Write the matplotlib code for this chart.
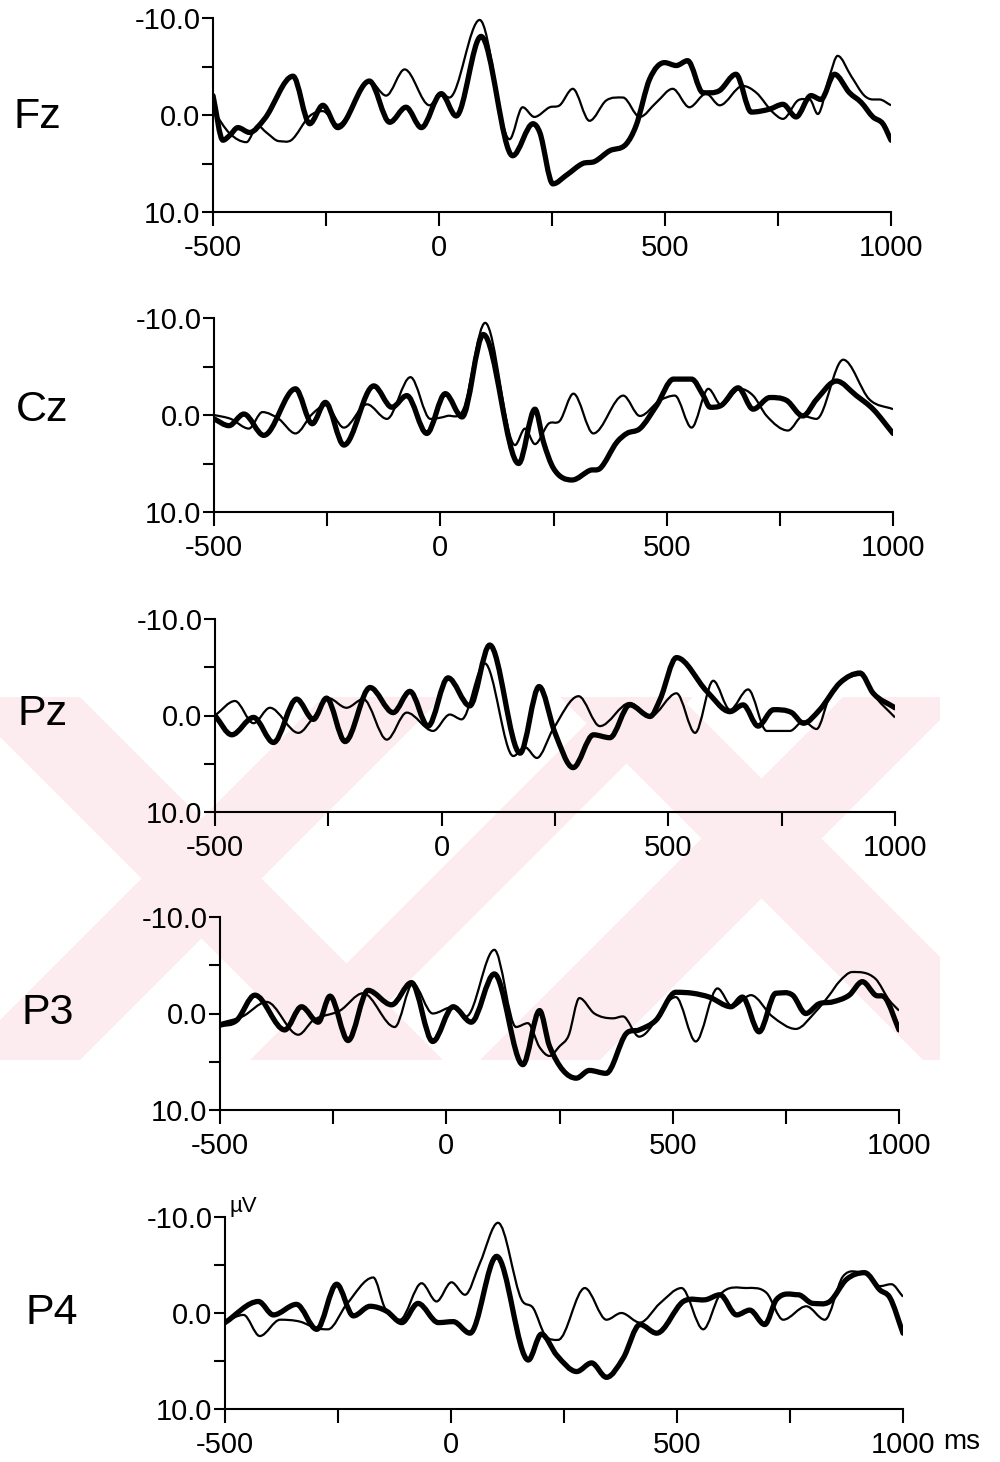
import matplotlib
matplotlib.use("Agg")
import matplotlib.pyplot as plt
from matplotlib.path import Path
from matplotlib.patches import PathPatch, Polygon, Rectangle

plt.rcParams['font.family'] = ['Liberation Sans', 'DejaVu Sans']

# electrode names, top to bottom
electrodes = ['Fz', 'Cz', 'Pz', 'P3', 'P4']

# (ms, uV), negative is drawn up
fz_thin_t = [-500, -463, -426, -401, -382, -353, -327, -286, -257, -224, -154, -117, -76, -21, 5, 23, 90, 156, 185, 211,
             245, 267, 296, 333, 370, 407, 444, 481, 517, 554, 591, 621, 672, 702, 738, 761, 794, 820, 838, 864, 882,
             912, 941, 960, 974, 1000]
fz_thin_v = [-0.5, 1.9, 2.8, 1.1, 1.8, 2.7, 2.6, 0.1, -0.4, 1.0, -3.5, -2.0, -4.7, -1.0, -2.2, -1.8, -9.8, 2.5, -0.8, 0.2,
             -0.8, -1.0, -2.7, 0.6, -1.5, -1.8, 0.2, -1.3, -2.7, -0.8, -2.2, -1.0, -3.0, -2.3, -0.3, 0.4, -1.5, -1.6, -0.1,
             -4.0, -6.1, -4.0, -2.0, -1.6, -1.6, -1.0]
fz_thick_t = [-500, -478, -463, -445, -419, -386, -323, -286, -257, -224, -154, -109, -73, -39, 5, 38, 93, 163, 208, 223,
              252, 282, 318, 344, 377, 414, 436, 466, 499, 525, 550, 584, 620, 657, 691, 731, 761, 790, 823, 845, 875,
              908, 934, 960, 982, 1000]
fz_thick_v = [-2.0, 2.6, 2.1, 1.3, 1.8, 0.4, -4.0, 0.9, -1.0, 1.3, -3.5, 0.75, -0.8, 1.3, -2.2, 0.1, -8.1, 4.2, 0.9, 1.8,
              7.1, 6.2, 5.0, 4.8, 3.7, 3.0, 1.1, -3.7, -5.4, -5.1, -5.6, -2.3, -2.5, -4.2, -0.3, -0.6, -1.1, 0.2, -2.0,
              -1.6, -4.2, -2.3, -1.3, 0.2, 0.9, 2.6]

cz_thin_t = [-500, -463, -423, -393, -357, -320, -283, -254, -213, -162, -118, -66, -22, 15, 51, 99, 165, 187, 209, 239,
             264, 294, 338, 404, 441, 485, 518, 555, 592, 621, 662, 691, 721, 768, 801, 831, 890, 948, 1000]
cz_thin_v = [0.0, 0.4, 1.4, -0.3, 0.4, 1.9, -0.1, -1.0, 1.3, -1.1, 0.4, -3.9, 0.4, 0.1, -0.6, -9.5, 3.1, 1.4, 3.0, 0.9,
             0.6, -2.2, 1.9, -2.0, 0.1, -1.5, -2.0, 1.3, -2.7, -1.0, -2.7, -2.0, 0.1, 1.6, 0.1, 0.4, -5.7, -1.6, -0.6]
cz_thick_t = [-500, -467, -434, -390, -320, -283, -254, -213, -147, -107, -74, -30, 11, 48, 95, 173, 209, 228, 250, 291,
              331, 353, 390, 412, 441, 478, 515, 555, 581, 596, 621, 658, 691, 728, 765, 801, 831, 875, 919, 956, 1000]
cz_thick_v = [0.4, 1.1, -0.1, 2.1, -2.7, 0.9, -1.3, 3.1, -3.0, -0.8, -2.0, 1.9, -2.2, 0.2, -8.3, 5.0, -0.6, 2.8, 5.5, 6.7,
              5.7, 5.5, 2.8, 1.9, 1.4, -1.0, -3.7, -3.7, -2.0, -0.8, -1.0, -2.8, -0.6, -1.8, -1.5, 0.1, -1.6, -3.5, -2.0,
              -0.6, 1.9]

pz_thin_t = [-500, -456, -415, -379, -316, -283, -250, -210, -173, -121, -77, -19, 18, 44, 95, 158, 184, 210, 246, 302,
             349, 415, 460, 518, 559, 599, 636, 676, 717, 768, 798, 827, 856, 886, 923, 959, 1000]
pz_thin_v = [0.0, -1.5, 0.8, -0.8, 1.8, 0.2, -1.8, -0.8, -1.7, 2.5, -0.3, 1.6, -0.1, 0.4, -5.4, 4.2, 3.3, 4.4, 1.4, -2.0,
             1.1, -1.3, 0.1, -2.3, 1.8, -3.6, -0.6, -2.7, 1.6, 1.6, 0.6, 1.4, -2.0, -3.6, -4.2, -1.8, 0.2]
pz_thick_t = [-500, -463, -415, -371, -320, -283, -254, -213, -158, -107, -70, -30, 14, 62, 106, 173, 215, 250, 290, 335,
              371, 415, 460, 482, 518, 585, 636, 665, 698, 732, 772, 798, 834, 879, 923, 952, 1000]
pz_thick_v = [0.0, 2.0, 0.2, 2.8, -1.7, 0.4, -1.8, 2.7, -2.9, -0.3, -2.5, 1.1, -3.9, -1.0, -7.3, 3.9, -3.0, 1.8, 5.4, 2.0,
              2.3, -1.1, 0.1, -1.7, -6.0, -2.5, -0.4, -1.1, 1.1, -0.6, -0.3, 0.8, -0.6, -3.4, -4.4, -2.3, -0.8]

p3_thin_t = [-500, -450, -397, -327, -294, -235, -184, -114, -74, -30, 15, 44, 106, 154, 180, 206, 228, 250, 270, 294,
             327, 368, 390, 426, 507, 551, 599, 632, 673, 720, 772, 816, 846, 868, 897, 948, 978, 1000]
p3_thin_v = [1.0, 0.3, -1.2, 2.2, 0.7, -0.3, -2.1, 1.4, -3.1, 0.0, -0.7, 0.3, -6.6, 1.4, 1.0, 3.5, 4.4, 3.4, 2.3, -1.6,
             0.0, 0.5, 0.3, 2.4, -1.7, 2.9, -2.6, -0.7, -1.9, 0.3, 1.6, -0.2, -1.9, -3.3, -4.3, -3.6, -1.4, -0.3]
p3_thick_t = [-500, -463, -423, -357, -320, -283, -257, -217, -173, -121, -77, -30, 15, 55, 106, 169, 206, 228, 287, 316,
              353, 397, 426, 463, 507, 544, 581, 629, 654, 691, 728, 765, 794, 823, 853, 890, 919, 948, 970, 1000]
p3_thick_v = [1.2, 0.7, -1.9, 1.7, -0.7, 0.9, -1.8, 2.8, -2.4, -0.9, -3.2, 2.9, -0.7, 0.9, -4.1, 5.3, -0.3, 3.4, 6.7, 5.9,
              6.2, 2.1, 1.7, 0.7, -2.2, -2.1, -1.7, -0.7, -1.7, 1.9, -2.1, -1.9, 0.0, -1.0, -1.2, -1.9, -3.3, -1.9, -1.6,
              1.7]

p4_thin_t = [-500, -459, -423, -378, -334, -297, -272, -231, -172, -146, -113, -65, -32, 1, 31, 64, 104, 156, 182, 208,
             237, 296, 344, 377, 418, 462, 510, 558, 595, 654, 698, 735, 786, 827, 867, 912, 949, 974, 1000]
p4_thin_v = [0.9, 0.2, 2.4, 0.7, 0.9, 1.6, 1.7, -0.9, -3.7, -0.5, 0.7, -3.1, -1.2, -3.2, -1.9, -5.2, -9.4, -1.4, -0.5, 2.3,
             2.8, -2.6, 0.7, 0.0, 1.0, -1.0, -2.6, 1.7, -1.9, -2.6, -2.1, 0.7, -0.7, 0.7, -3.8, -4.2, -2.8, -3.0, -1.7]
p4_thick_t = [-500, -426, -393, -342, -297, -253, -216, -179, -143, -109, -73, -28, 5, 42, 101, 171, 200, 234, 278, 311,
              344, 381, 418, 455, 514, 565, 595, 632, 661, 694, 720, 768, 801, 838, 875, 915, 949, 971, 1000]
p4_thick_v = [1.0, -1.2, 0.2, -0.9, 1.7, -3.0, 0.3, -0.7, -0.2, 1.0, -1.0, 1.0, 0.9, 2.1, -5.9, 4.9, 2.2, 4.4, 6.1, 5.2,
              6.7, 4.7, 1.2, 2.1, -1.2, -1.4, -1.9, 0.2, -0.3, 1.2, -1.4, -1.9, -1.0, -1.2, -3.5, -4.2, -2.4, -1.6, 2.1]

thin = [(fz_thin_t, fz_thin_v), (cz_thin_t, cz_thin_v), (pz_thin_t, pz_thin_v), (p3_thin_t, p3_thin_v),
        (p4_thin_t, p4_thin_v)]
thick = [(fz_thick_t, fz_thick_v), (cz_thick_t, cz_thick_v), (pz_thick_t, pz_thick_v), (p3_thick_t, p3_thick_v),
         (p4_thick_t, p4_thick_v)]

x_ticks = [-500, -250, 0, 250, 500, 750, 1000]
x_labels = ['-500', '', '0', '', '500', '', '1000']
y_ticks = [-10, -5, 0, 5, 10]
y_labels = ['-10.0', '', '0.0', '', '10.0']


def smooth_path(t, v):
    # curve through the read points: flat at peaks/troughs, bezier segments between
    n = len(t)
    m = []
    for i in range(n):
        if i == 0:
            m.append((v[1] - v[0]) / (t[1] - t[0]))
        elif i == n - 1:
            m.append((v[i] - v[i - 1]) / (t[i] - t[i - 1]))
        else:
            s1 = (v[i] - v[i - 1]) / (t[i] - t[i - 1])
            s2 = (v[i + 1] - v[i]) / (t[i + 1] - t[i])
            if s1 * s2 <= 0:
                m.append(0.0)
            else:
                m.append((s1 + s2) / 2)
    verts = [(t[0], v[0])]
    codes = [Path.MOVETO]
    for i in range(n - 1):
        h = t[i + 1] - t[i]
        verts += [(t[i] + h / 3, v[i] + m[i] * h / 3), (t[i + 1] - h / 3, v[i + 1] - m[i + 1] * h / 3),
                  (t[i + 1], v[i + 1])]
        codes += [Path.CURVE4] * 3
    return Path(verts, codes)


W, H = 1000, 1462
fig = plt.figure(figsize=(W / 100, H / 100), dpi=100)

# faint pink scan watermark behind the middle panels (pixel coords, y down)
wm_top, wm_bot = 697, 1060
pink = '#fdecef'
clip = Rectangle((0, 1 - wm_bot / H), 940 / W, (wm_bot - wm_top) / H, transform=fig.transFigure)
for x0, x1, down in [(-40, 80, True), (-40, 80, False), (560, 680, True), (480, 600, False), (250, 330, False)]:
    d = wm_bot - wm_top
    if down:
        pts = [(x0, wm_top), (x1, wm_top), (x1 + d, wm_bot), (x0 + d, wm_bot)]
    else:
        pts = [(x0 + d, wm_top), (x1 + d, wm_top), (x1, wm_bot), (x0, wm_bot)]
    poly = Polygon([(px / W, 1 - py / H) for px, py in pts], closed=True, transform=fig.transFigure,
                   facecolor=pink, edgecolor='none', zorder=0)
    fig.patches.append(poly)
    poly.set_clip_path(clip)

# panel boxes in pixels: left, right, top, bottom
boxes = [(213, 891, 18, 212), (214, 893, 318, 512), (215, 895, 619, 812), (220, 899, 917, 1110), (225, 903, 1217, 1409)]
name_pos = [(37, 117), (42, 410), (43, 714), (48, 1013), (52, 1313)]

for i in range(5):
    l, r, t, b = boxes[i]
    ax = fig.add_axes([l / W, 1 - b / H, (r - l) / W, (b - t) / H])
    ax.set_zorder(2)
    ax.patch.set_alpha(0)
    ax.add_patch(PathPatch(smooth_path(*thin[i]), fill=False, edgecolor='black', lw=1.6, joinstyle='round'))
    ax.add_patch(PathPatch(smooth_path(*thick[i]), fill=False, edgecolor='black', lw=3.8, joinstyle='round',
                           capstyle='round'))
    ax.set_xlim(-500, 1000)
    ax.set_ylim(10, -10)
    for s in ['top', 'right']:
        ax.spines[s].set_visible(False)
    for s in ['left', 'bottom']:
        ax.spines[s].set_linewidth(1.5)
    ax.set_xticks(x_ticks)
    ax.set_xticklabels(x_labels)
    ax.set_yticks(y_ticks)
    ax.set_yticklabels(y_labels)
    ax.tick_params(axis='x', direction='out', length=10, width=1.5, pad=6, labelsize=21)
    ax.tick_params(axis='y', direction='out', length=8, width=1.5, pad=1, labelsize=21)
    fig.text(name_pos[i][0] / W, 1 - name_pos[i][1] / H, electrodes[i], fontsize=31, ha='center', va='center',
             zorder=3)
    if i == 4:
        ax.text(0.006, 1.0, 'µV', transform=ax.transAxes, fontsize=16, ha='left', va='bottom')
        ax.text(1.06, -0.17, 'ms', transform=ax.transAxes, fontsize=20, ha='left', va='center')

fig.savefig('out.png', dpi=100)
